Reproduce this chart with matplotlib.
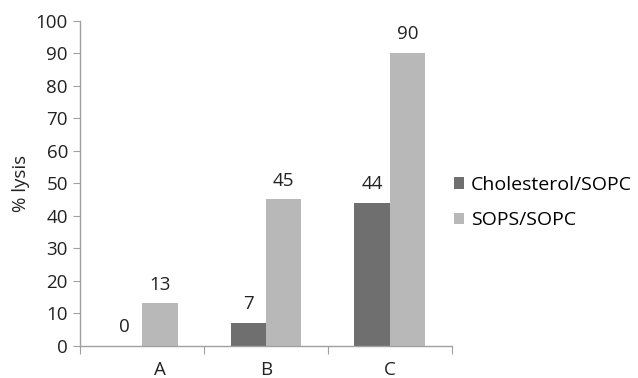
import matplotlib
matplotlib.use("Agg")
import matplotlib.pyplot as plt
import matplotlib.transforms as mtransforms
import numpy as np

categories = ["A", "B", "C"]
series_names = ["Cholesterol/SOPC", "SOPS/SOPC"]
chol_values = [0, 7, 44]
sops_values = [13, 45, 90]
y_ticks = [0, 10, 20, 30, 40, 50, 60, 70, 80, 90, 100]

plt.rcParams['font.family'] = ['Open Sans', 'DejaVu Sans']
FS = 13.5

fig = plt.figure(figsize=(6.38, 3.78), dpi=100)
ax = fig.add_axes([0.126, 0.0855, 0.582, 0.86])

x = np.arange(len(categories))
w = 0.286
colors = ["#6f6f6f", "#b8b8b8"]
b1 = ax.bar(x - w / 2, chol_values, w, color=colors[0], label=series_names[0])
b2 = ax.bar(x + w / 2, sops_values, w, color=colors[1], label=series_names[1])

for bars, vals in ((b1, chol_values), (b2, sops_values)):
    for r, v in zip(bars, vals):
        ax.annotate(f"{v}", (r.get_x() + r.get_width() / 2, v),
                    xytext=(0, 7), textcoords="offset points",
                    ha="center", va="bottom", fontsize=FS, color="#222222")

ax.set_xlim(-0.5, 2.5)
ax.set_ylim(0, 100)
ax.set_yticks(y_ticks)
ax.tick_params(axis="y", labelsize=FS, length=5, color="#a0a0a0", labelcolor="#222222", pad=4)

ax.set_xticks(np.arange(-0.5, len(categories), 1.0))
ax.set_xticklabels([])
ax.tick_params(axis="x", length=6, color="#a0a0a0")
ax.set_xticks(x, minor=True)
ax.set_xticklabels(categories, minor=True)
ax.tick_params(axis="x", which="minor", length=0, labelsize=FS, labelcolor="#222222", pad=11)
lab0 = ax.xaxis.get_minorticklabels()[0]
lab0.set_transform(lab0.get_transform() + mtransforms.ScaledTranslation(18 / 100, 0, fig.dpi_scale_trans))

for s in ("top", "right"):
    ax.spines[s].set_visible(False)
for s in ("left", "bottom"):
    ax.spines[s].set_color("#a0a0a0")
    ax.spines[s].set_linewidth(1.0)

ax.set_ylabel("% lysis", fontsize=FS, color="#222222", labelpad=4)

ax.legend(loc="center left", bbox_to_anchor=(1.005, 0.44), bbox_transform=ax.transAxes,
          frameon=False, fontsize=14, handlelength=0.55, handleheight=0.55,
          handletextpad=0.35, labelspacing=0.9, borderaxespad=0.0, borderpad=0.0)

fig.savefig("out.png", dpi=100)
